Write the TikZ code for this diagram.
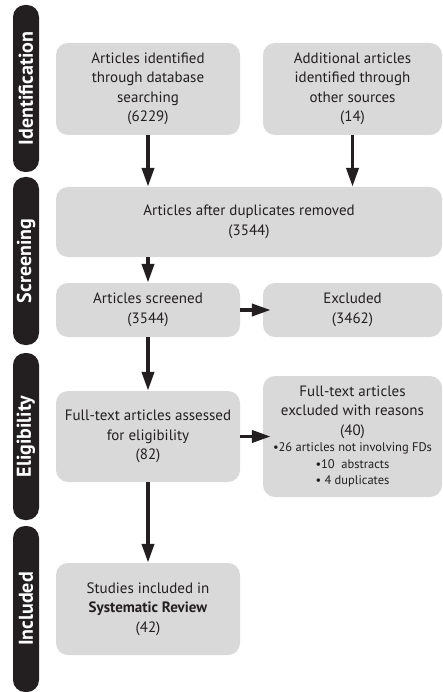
\documentclass[tikz,border=0pt]{standalone}
\usepackage{fontspec}
\setmainfont{PT Sans}
\usetikzlibrary{arrows.meta}
\definecolor{ink}{HTML}{231F20}
\definecolor{boxgray}{HTML}{D9D9D9}
\newcommand{\reasonfont}{\fontsize{12.5}{16}\selectfont}

\begin{document}
\begin{tikzpicture}[line cap=round,line join=round,x=1pt,y=1pt,
  flowbox/.style={fill=boxgray,rounded corners=12pt,align=center,text=ink,inner sep=2pt,
    font=\fontsize{15}{19.5}\selectfont},
  stage/.style={fill=ink,rounded corners=12pt,rotate=90,minimum height=26pt,inner sep=0pt,
    text=white,font=\bfseries\fontsize{20}{22}\selectfont},
  flow/.style={-{Triangle[width=12pt,length=19pt]},line width=3.8pt,color=ink,line cap=butt}]
\useasboundingbox (0,0) rectangle (443,-692);
% stages
\node[stage,minimum width=167pt] (ident) at (26,-88.5) {Identification};
\node[stage,minimum width=168pt] (scr) at (26,-261) {Screening};
\node[stage,minimum width=167pt] (elig) at (26,-436.5) {Eligibility};
\node[stage,minimum width=166pt] (inc) at (26,-609) {Included};
% boxes
\node[flowbox,minimum width=184pt,minimum height=92pt] (db) at (148,-89) {Articles identified\\through database\\searching\\(6229)};
\node[flowbox,minimum width=179pt,minimum height=92pt] (other) at (352.5,-89) {Additional articles\\identified through\\other sources\\(14)};
\node[flowbox,minimum width=386pt,minimum height=70pt] (dup) at (249,-222) {Articles after duplicates removed\\(3544)};
\node[flowbox,minimum width=184pt,minimum height=54pt] (screened) at (148,-310) {Articles screened\\(3544)};
\node[flowbox,minimum width=179pt,minimum height=54pt] (excluded) at (352.5,-310) {Excluded\\(3462)};
\node[flowbox,minimum width=184pt,minimum height=91pt] (full) at (148,-436.5) {Full-text articles assessed\\for eligibility\\(82)};
\node[flowbox,minimum width=179pt,minimum height=121pt] (reasons) at (352.5,-436.5) {Full-text articles\\excluded with reasons\\(40)\\[-3pt]
  {\reasonfont •26 articles not involving FDs}\\[-3pt]{\reasonfont •10~~abstracts}\\[-3pt]{\reasonfont • 4 duplicates}};
\node[flowbox,minimum width=184pt,minimum height=92pt] (incl) at (148,-609) {Studies included in\\\textbf{Systematic Review}\\(42)};
% arrows
\draw[flow] (db.south) -- (db.south |- dup.north);
\draw[flow] (other.south) -- (other.south |- dup.north);
\draw[flow] (dup.south -| screened) -- (screened.north);
\draw[flow,shorten >=-8pt] (screened.east) -- (excluded.west);
\draw[flow] (screened.south) -- (full.north);
\draw[flow,shorten >=-8pt] (full.east) -- (reasons.west);
\draw[flow] (full.south) -- (incl.north);
\end{tikzpicture}
\end{document}
